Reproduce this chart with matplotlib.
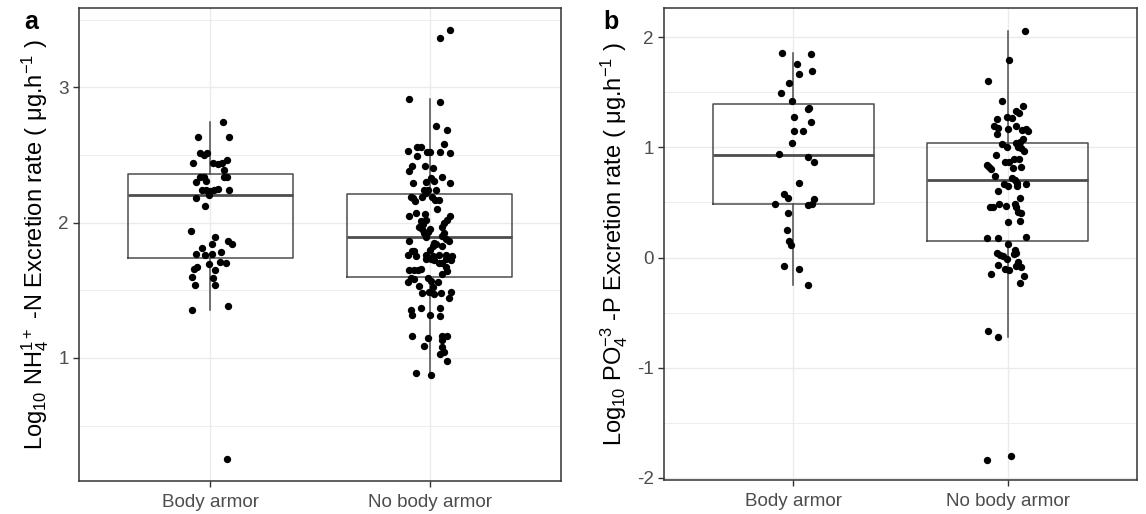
import matplotlib
matplotlib.use("Agg")
import matplotlib.pyplot as plt

plt.rcParams["font.family"] = ["Liberation Sans", "DejaVu Sans"]
plt.rcParams["mathtext.fontset"] = "custom"
plt.rcParams["mathtext.rm"] = "Liberation Sans"
plt.rcParams["mathtext.it"] = "Liberation Sans:italic"
plt.rcParams["mathtext.bf"] = "Liberation Sans:bold"
plt.rcParams["axes.unicode_minus"] = False

groups = ["Body armor", "No body armor"]

# ---- panel a : NH4 excretion (log10) ----
a_ba_val = [2.74, 2.63, 2.63, 2.51, 2.50, 2.51, 2.44, 2.44, 2.43, 2.44, 2.46, 2.39,
            2.34, 2.34, 2.34, 2.34, 2.30, 2.31, 2.24, 2.24, 2.23, 2.24, 2.25, 2.24,
            2.18, 2.20, 2.12, 1.94, 1.89, 1.86, 1.84, 1.81, 1.84, 1.77, 1.76, 1.77,
            1.78, 1.71, 1.70, 1.69, 1.67, 1.66, 1.65, 1.60, 1.59, 1.54, 1.54, 1.35,
            1.38, 0.25]
a_ba_jit = [0.056, -0.058, 0.087, -0.046, -0.031, -0.017, -0.078, 0.012, 0.035, 0.053,
            0.076, 0.064, 0.061, 0.076, -0.049, -0.031, -0.066, -0.020, -0.038, -0.018,
            0.0, 0.015, 0.035, 0.087, -0.066, -0.005, -0.026, -0.089, 0.023, 0.080,
            0.099, -0.038, 0.005, -0.066, -0.027, 0.005, 0.050, 0.046, 0.069, -0.008,
            -0.061, -0.076, 0.023, -0.084, 0.012, -0.072, 0.023, -0.084, 0.080, 0.076]

a_nba_val = [3.42, 3.36, 2.91, 2.89, 2.71, 2.68, 2.58, 2.56, 2.56, 2.53, 2.49, 2.52,
             2.52, 2.52, 2.51, 2.42, 2.42, 2.40, 2.38, 2.33, 2.34, 2.31, 2.30, 2.29,
             2.29, 2.24, 2.24, 2.24, 2.19, 2.18, 2.16, 2.19, 2.22, 2.19, 2.17, 2.17,
             2.10, 2.07, 2.06, 2.05, 2.05, 2.02, 2.01, 2.02, 2.00, 1.97, 1.95, 1.95,
             1.97, 1.89, 1.90, 1.88, 1.86, 1.83, 1.84, 1.80, 1.83, 1.79, 1.76, 1.76,
             1.75, 1.76, 1.75, 1.99, 1.92, 1.92, 1.85, 1.79, 1.75, 1.76, 1.93, 1.86,
             1.65, 1.65, 1.65, 1.66, 1.59, 1.56, 1.58, 1.53, 1.48, 1.59, 1.57, 1.52,
             1.49, 1.47, 1.56, 1.48, 1.62, 1.73, 1.72, 1.67, 1.64, 1.70, 1.70, 1.73,
             1.72, 1.73, 1.49, 1.44, 1.35, 1.32, 1.37, 1.32, 1.37, 1.31, 1.16, 1.15,
             1.09, 1.16, 1.16, 1.13, 1.08, 1.03, 1.04, 0.98, 0.89, 0.87]
a_nba_jit = [0.093, 0.048, -0.093, 0.048, 0.029, 0.082, 0.064, -0.056, -0.039, -0.097,
             -0.058, -0.012, 0.002, 0.048, 0.093, -0.082, -0.021, 0.017, -0.093, 0.006,
             0.059, 0.021, -0.016, -0.075, 0.095, -0.024, -0.005, 0.029, -0.085, -0.075,
             -0.065, -0.032, -0.016, 0.011, 0.025, 0.044, 0.034, -0.062, -0.021, -0.093,
             0.095, 0.082, -0.039, -0.016, 0.067, -0.047, -0.032, 0.002, 0.059, -0.016,
             0.059, 0.075, -0.093, 0.014, 0.029, 0.002, 0.057, -0.070, -0.100, -0.016,
             0.014, 0.075, 0.102, -0.028, -0.024, 0.067, 0.021, -0.078, -0.062, 0.044,
             -0.005, 0.090,
             -0.093, -0.070, -0.052, -0.038, -0.085, -0.100, -0.070, -0.047, -0.032, -0.009,
             0.006, 0.014, -0.001, 0.020, 0.041, 0.052, 0.059, 0.075, 0.098, 0.075,
             0.082, 0.044, 0.059, 0.008, 0.021, -0.016, 0.098, 0.090, -0.085, -0.078,
             -0.039, 0.002, 0.048, 0.048, -0.080, -0.009, -0.024, 0.057, 0.078, 0.059,
             0.057, 0.048, 0.067, 0.078, -0.062, 0.006]

# ---- panel b : PO4 excretion (log10) ----
b_ba_val = [1.86, 1.85, 1.76, 1.67, 1.69, 1.58, 1.49, 1.42, 1.35, 1.36, 1.28, 1.23,
            1.15, 1.15, 1.04, 0.94, 0.91, 0.87, 0.68, 0.58, 0.54, 0.49, 0.48, 0.49,
            0.53, 0.40, 0.25, 0.15, 0.11, -0.08, -0.10, -0.25]
b_ba_jit = [-0.053, 0.084, 0.019, 0.029, 0.090, -0.019, -0.057, -0.006, 0.068, 0.076,
            0.006, 0.084, 0.006, 0.048, -0.006, -0.065, 0.071, 0.099, 0.025, -0.045,
            -0.022, -0.084, 0.071, 0.087, 0.099, -0.025, -0.029, -0.019, -0.011, -0.045,
            0.029, 0.071]

b_nba_val = [2.06, 1.79, 1.60, 1.42, 1.38, 1.33, 1.31, 1.26, 1.28, 1.27, 1.19, 1.18,
             1.17, 1.19, 1.16, 1.17, 1.15, 1.12, 1.03, 1.00, 1.04, 1.05, 1.08, 1.00,
             0.99, 0.97, 0.93, 0.84, 0.82, 0.80, 0.74, 0.87, 0.87, 0.89, 0.89, 0.81,
             0.82, 0.72, 0.70, 0.68, 0.67, 0.65, 0.67, 0.65, 0.60, 0.54, 0.46, 0.46,
             0.49, 0.47, 0.49, 0.46, 0.41, 0.40, 0.32, 0.33, 0.18, 0.18, 0.19, 0.12,
             0.04, 0.02, 0.07, 0.04, 0.01, -0.01, 0.03, -0.07, -0.10, -0.11, -0.08,
             -0.09, -0.04, -0.15, -0.17, -0.23, -0.67, -0.72, -1.84, -1.80]
b_nba_jit = [0.079, 0.006, -0.093, -0.026, 0.071, 0.040, 0.053, -0.053, -0.006, 0.017,
             -0.065, -0.045, 0.0, 0.037, 0.068, 0.084, 0.095, -0.053, -0.029, -0.006,
             0.040, 0.056, 0.071, 0.048, 0.063, 0.074, -0.057, -0.099, -0.087, -0.080,
             -0.060, -0.014, 0.006, 0.028, 0.051, 0.025, 0.060, 0.017, 0.033, 0.044,
             -0.019, 0.0, 0.084, 0.044, -0.045, 0.056, -0.084, -0.071, -0.040, -0.009,
             0.033, 0.040, 0.048, 0.060, 0.0, 0.056, -0.099, -0.045, 0.084, 0.0,
             -0.053, -0.037, 0.033, 0.040, -0.023, -0.006, 0.030, -0.045, -0.014, 0.006,
             0.040, 0.063, 0.048, -0.080, 0.074, 0.056, -0.092, -0.045, -0.099, 0.014]

# box statistics: whisker low, q1, median, q3, whisker high
a_box = [[1.35, 1.74, 2.20, 2.36, 2.74], [0.86, 1.60, 1.89, 2.21, 2.91]]
b_box = [[-0.25, 0.49, 0.93, 1.39, 1.86], [-0.72, 0.15, 0.70, 1.04, 2.06]]

LINE = "#4d4d4d"
GRID = "#ebebeb"

fig = plt.figure(figsize=(11.46, 5.14), dpi=100)
ax_a = fig.add_axes([0.0689, 0.0642, 0.4206, 0.9202])
ax_b = fig.add_axes([0.5797, 0.0661, 0.4122, 0.9183])


def draw_panel(ax, boxes, points, ylim, major, minor, ylabel):
    ax.set_xlim(0.4, 2.6)
    ax.set_ylim(*ylim)
    for y in minor:
        ax.axhline(y, color=GRID, lw=0.6, zorder=0)
    for y in major:
        ax.axhline(y, color=GRID, lw=1.0, zorder=0)
    for x in (1, 2):
        ax.axvline(x, color=GRID, lw=1.0, zorder=0)

    stats = [dict(whislo=b[0], q1=b[1], med=b[2], q3=b[3], whishi=b[4]) for b in boxes]
    ax.bxp(stats, positions=[1, 2], widths=0.75, showfliers=False, showcaps=False,
           boxprops=dict(color=LINE, lw=1.1),
           whiskerprops=dict(color=LINE, lw=1.1),
           medianprops=dict(color=LINE, lw=2.0),
           manage_ticks=False, zorder=2)

    for pos, (vals, jit) in zip((1, 2), points):
        xs = [pos + j for j in jit]
        ax.scatter(xs, vals, s=28, color="black", linewidths=0, zorder=3)

    ax.set_xticks([1, 2])
    ax.set_xticklabels(groups)
    ax.set_yticks(major)
    ax.tick_params(direction="out", length=4.5, width=1.0, color="#333333",
                   labelcolor="#4d4d4d", labelsize=13.6)
    ax.tick_params(axis="x", pad=4.5)
    ax.tick_params(axis="y", pad=3)
    for sp in ax.spines.values():
        sp.set_color("#333333")
        sp.set_linewidth(1.1)
    ax.set_ylabel(ylabel, fontsize=17, labelpad=5)


draw_panel(ax_a, a_box, [(a_ba_val, a_ba_jit), (a_nba_val, a_nba_jit)],
           (0.09, 3.585), [1, 2, 3], [0.5, 1.5, 2.5, 3.5],
           r"Log$_{10}$ NH$_4^{1+}$ -N Excretion rate ( μg.h$^{-1}$ )")
draw_panel(ax_b, b_box, [(b_ba_val, b_ba_jit), (b_nba_val, b_nba_jit)],
           (-2.02, 2.265), [-2, -1, 0, 1, 2], [-1.5, -0.5, 0.5, 1.5],
           r"Log$_{10}$ PO$_4^{-3}$ -P Excretion rate ( μg.h$^{-1}$ )")

fig.text(0.027, 0.957, "a", fontsize=18, fontweight="bold", ha="center", va="center")
fig.text(0.533, 0.957, "b", fontsize=18, fontweight="bold", ha="center", va="center")

fig.savefig("out.png", dpi=100, facecolor="white")
